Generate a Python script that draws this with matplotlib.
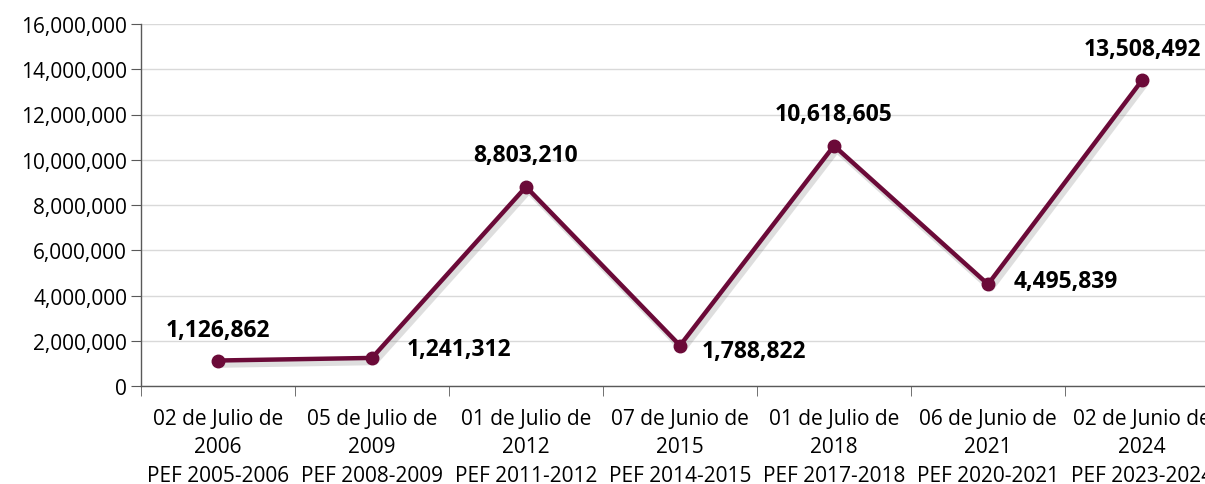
import matplotlib
matplotlib.use("Agg")
import matplotlib.pyplot as plt
import matplotlib.patheffects as pe
from matplotlib.ticker import FuncFormatter, MultipleLocator

categories = [
    "02 de Julio de\n2006\nPEF 2005-2006",
    "05 de Julio de\n2009\nPEF 2008-2009",
    "01 de Julio de\n2012\nPEF 2011-2012",
    "07 de Junio de\n2015\nPEF 2014-2015",
    "01 de Julio de\n2018\nPEF 2017-2018",
    "06 de Junio de\n2021\nPEF 2020-2021",
    "02 de Junio de\n2024\nPEF 2023-2024",
]
values = [1126862, 1241312, 8803210, 1788822, 10618605, 4495839, 13508492]
# label placement: (ha, dx pixels, dy pixels)
label_offsets = [("center", 0, 31), ("left", 35, 9), ("center", 0, 32), ("left", 22, -5),
                 ("center", 0, 32), ("left", 26, 3), ("center", 0, 31)]

plt.rcParams['font.family'] = ['Open Sans', 'DejaVu Sans']
color = "#6B0A38"

fig = plt.figure(figsize=(12.05, 4.85), dpi=100)
ax = fig.add_axes([141/1205, 1-387/485, (1219-141)/1205, (387-25)/485])

x = list(range(len(values)))
# soft shadow
ax.plot(x, values, color="#7f7f7f", lw=4.5, alpha=0.25, solid_capstyle="round",
        path_effects=[pe.Stroke(offset=(2, -3), linewidth=4.5)], zorder=2)
ax.plot(x, values, color=color, lw=3.2, marker="o", ms=9, solid_capstyle="round", zorder=3)

for xi, v, (ha, dx, dy) in zip(x, values, label_offsets):
    ax.annotate(f"{v:,}", (xi, v), xytext=(dx, dy), textcoords="offset pixels",
                ha=ha, va="center", fontsize=16.5, fontweight="bold", color="black")

ax.set_xlim(-0.5, len(values) - 0.5)
ax.set_ylim(0, 16000000)
ax.yaxis.set_major_locator(MultipleLocator(2000000))
ax.yaxis.set_major_formatter(FuncFormatter(lambda v, _: f"{int(v):,}"))
ax.grid(axis="y", color="#d9d9d9", lw=1)
ax.set_axisbelow(True)

ax.set_xticks(x)
ax.set_xticklabels(categories, fontsize=15, linespacing=1.45)
ax.tick_params(axis="x", length=0, pad=16)
ax.set_xticks([i - 0.5 for i in range(len(values) + 1)], minor=True)
ax.tick_params(axis="x", which="minor", length=7, color="#595959")
ax.tick_params(axis="y", length=7, color="#595959", labelsize=15, pad=3)

for s in ["top", "right"]:
    ax.spines[s].set_visible(False)
for s in ["left", "bottom"]:
    ax.spines[s].set_color("#595959")
    ax.spines[s].set_linewidth(1)

fig.savefig("out.png", dpi=100)
